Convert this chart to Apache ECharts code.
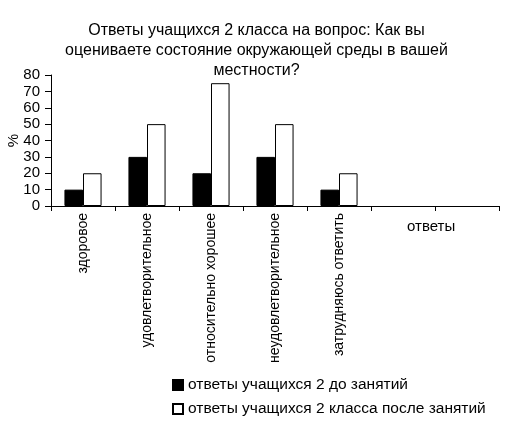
<!DOCTYPE html>
<html>
<head>
<meta charset="utf-8">
<script src="https://cdn.jsdelivr.net/npm/echarts@6/dist/echarts.min.js"></script>
<style>
html,body{margin:0;padding:0;background:#fff;}
#c{width:513px;height:422px;}
</style>
</head>
<body>
<div id="c"></div>
<script>
var titleText = 'Ответы учащихся 2 класса на вопрос: Как вы\nоцениваете состояние окружающей среды в вашей\nместности?';
var categories = ['здоровое', 'удовлетворительное', 'относительно хорошее', 'неудовлетворительное', 'затрудняюсь ответить', '', ''];
var seriesNames = ['ответы учащихся 2 до занятий', 'ответы учащихся 2 класса после занятий'];
var beforeValues = [10, 30, 20, 30, 10, null, null];
var afterValues = [20, 50, 75, 50, 20, null, null];
var yTicks = {min: 0, max: 80, interval: 10};
var yName = '%';
var xName = 'ответы';

var FONT = '"Liberation Sans", Arial, sans-serif';
var legendBase = {
  orient: 'vertical',
  left: 167,
  itemWidth: 10,
  itemHeight: 10,
  icon: 'rect',
  textStyle: {fontFamily: FONT, fontSize: 15.5, color: '#000'}
};
var chart = echarts.init(document.getElementById('c'));
chart.setOption({
  animation: false,
  backgroundColor: '#fff',
  textStyle: {fontFamily: FONT, color: '#000'},
  title: {
    text: titleText,
    left: 'center',
    top: 16,
    textStyle: {fontFamily: FONT, fontSize: 16, fontWeight: 'normal', color: '#000', lineHeight: 20}
  },
  grid: {left: 51, right: 14, top: 75, bottom: 216, containLabel: false, outerBoundsMode: 'none'},
  legend: [
    Object.assign({}, legendBase, {top: 372, data: [seriesNames[0]]}),
    Object.assign({}, legendBase, {top: 396, data: [seriesNames[1]]})
  ],
  xAxis: {
    type: 'category',
    data: categories,
    axisLine: {lineStyle: {color: '#000', width: 1}},
    axisTick: {show: true, length: 5, interval: 0, lineStyle: {color: '#000'}},
    axisLabel: {rotate: 90, interval: 0, fontSize: 14, color: '#000', fontFamily: FONT, margin: 7}
  },
  yAxis: {
    type: 'value',
    min: yTicks.min,
    max: yTicks.max,
    interval: yTicks.interval,
    name: yName,
    nameLocation: 'middle',
    nameRotate: 90,
    nameGap: 30,
    nameMoveOverlap: false,
    nameTextStyle: {fontFamily: FONT, fontSize: 15, color: '#000'},
    axisLine: {show: true, lineStyle: {color: '#000', width: 1}},
    axisTick: {show: true, length: 6, lineStyle: {color: '#000'}},
    splitLine: {show: false},
    axisLabel: {fontSize: 15, color: '#000', fontFamily: FONT, margin: 11}
  },
  graphic: [{
    type: 'text',
    left: 407,
    top: 219,
    style: {text: xName, fontFamily: FONT, fontSize: 15, fill: '#000'}
  }],
  series: [{
    name: seriesNames[0],
    type: 'bar',
    data: beforeValues,
    barGap: '0%',
    barCategoryGap: '42%',
    itemStyle: {color: '#000', borderColor: '#000', borderWidth: 1}
  }, {
    name: seriesNames[1],
    type: 'bar',
    data: afterValues,
    barGap: '0%',
    barCategoryGap: '42%',
    itemStyle: {color: '#fff', borderColor: '#000', borderWidth: 1}
  }]
});
</script>
</body>
</html>
